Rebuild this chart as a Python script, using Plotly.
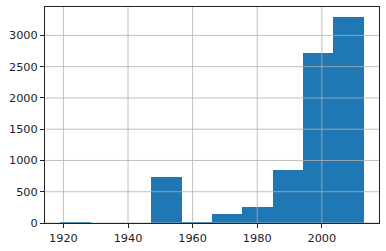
import numpy as np
import plotly.graph_objects as go

year_min = 1919.0
year_max = 2013.0
counts = [15, 0, 0, 735, 15, 150, 260, 845, 2720, 3290]
x_ticks = [1920, 1940, 1960, 1980, 2000]
y_ticks = [0, 500, 1000, 1500, 2000, 2500, 3000]

n = len(counts)
edges = np.linspace(year_min, year_max, n + 1)
centers = (edges[:-1] + edges[1:]) / 2
widths = np.diff(edges)

fig = go.Figure(go.Bar(x=centers, y=counts, width=widths,
                       marker=dict(color="#1f77b4", line=dict(width=0))))

span = year_max - year_min
xr = [year_min - 0.05 * span, year_max + 0.05 * span]
yr = [0, max(counts) * 1.05]

shapes = []
grid = dict(color="#b0b0b0", width=0.8)
for t in x_ticks:
    shapes.append(dict(type="line", xref="x", yref="paper", x0=t, x1=t, y0=0, y1=1,
                       line=grid, layer="above"))
for t in y_ticks:
    shapes.append(dict(type="line", xref="paper", yref="y", x0=0, x1=1, y0=t, y1=t,
                       line=grid, layer="above"))

axis_common = dict(showline=True, linecolor="#222222", linewidth=1, mirror=True,
                   ticks="outside", ticklen=4, tickwidth=1, tickcolor="#222222",
                   showgrid=False, zeroline=False,
                   tickfont=dict(family="DejaVu Sans", size=11.3, color="#222222"))

fig.update_layout(
    width=386, height=251,
    margin=dict(l=45, r=7, t=6, b=26),
    plot_bgcolor="white", paper_bgcolor="white",
    bargap=0, showlegend=False, shapes=shapes,
    xaxis=dict(range=xr, tickvals=x_ticks, ticktext=[str(t) for t in x_ticks], **axis_common),
    yaxis=dict(range=yr, tickvals=y_ticks, ticktext=[str(t) for t in y_ticks], **axis_common),
)
fig.write_html("out.html")
